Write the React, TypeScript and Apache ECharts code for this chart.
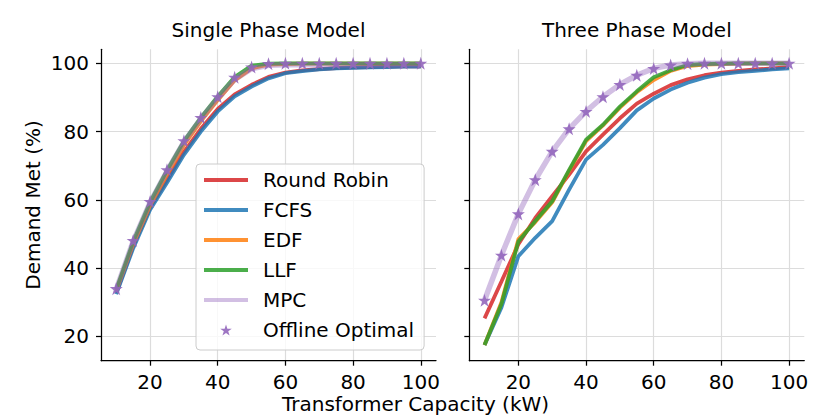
import React, { useEffect, useRef } from "react";
import * as echarts from "echarts";

const capacities = [10, 15, 20, 25, 30, 35, 40, 45, 50, 55, 60, 65, 70, 75, 80, 85, 90, 95, 100];
const seriesNames = ["Round Robin", "FCFS", "EDF", "LLF", "MPC", "Offline Optimal"];
const panelTitles = ["Single Phase Model", "Three Phase Model"];
const tickValuesX = [20, 40, 60, 80, 100];
const tickValuesY = [20, 40, 60, 80, 100];

// Single phase
const singleRR = [32.8, 46.5, 57.8, 65.8, 74.0, 80.8, 86.6, 90.9, 93.7, 96.0, 97.3, 97.9, 98.3, 98.6, 98.8, 98.9, 99.0, 99.1, 99.1];
const singleFCFS = [32.4, 45.8, 57.1, 65.0, 73.2, 80.0, 85.9, 90.3, 93.2, 95.6, 97.1, 97.7, 98.2, 98.5, 98.7, 98.8, 98.9, 99.0, 99.0];
const singleEDF = [33.5, 47.0, 58.3, 67.5, 76.0, 83.0, 89.2, 95.0, 98.5, 99.6, 99.8, 99.9, 99.9, 99.9, 99.9, 99.9, 99.9, 99.9, 99.9];
const singleLLF = [33.8, 47.8, 59.3, 68.6, 77.2, 84.1, 90.3, 96.0, 99.3, 99.9, 100, 100, 100, 100, 100, 100, 100, 100, 100];
const singleMPC = [33.8, 47.8, 59.2, 68.4, 76.9, 83.7, 89.8, 95.3, 98.4, 99.4, 99.6, 99.6, 99.6, 99.6, 99.6, 99.6, 99.6, 99.6, 99.6];
const singleOPT = [34.0, 48.1, 59.5, 68.8, 77.3, 84.1, 90.2, 95.9, 98.9, 99.9, 100, 100, 100, 100, 100, 100, 100, 100, 100];

// Three phase
const threeRR = [25.3, 36.1, 47.0, 54.7, 61.1, 67.4, 74.2, 79.1, 83.9, 88.2, 91.1, 93.6, 95.3, 96.5, 97.3, 97.8, 98.2, 98.5, 98.9];
const threeFCFS = [17.5, 28.5, 43.5, 48.9, 53.8, 63.0, 71.8, 76.1, 81.0, 86.2, 89.7, 92.3, 94.3, 95.8, 96.8, 97.4, 97.8, 98.2, 98.5];
const threeEDF = [17.5, 30.0, 48.5, 53.5, 59.3, 68.5, 77.2, 81.8, 87.0, 91.5, 95.1, 97.8, 99.2, 99.6, 99.8, 99.9, 100, 100, 100];
const threeLLF = [17.5, 29.5, 47.8, 53.8, 59.6, 68.8, 77.6, 82.0, 87.3, 91.8, 95.9, 98.0, 99.5, 99.8, 99.9, 100, 100, 100, 100];
const threeMPC = [30.6, 43.8, 55.9, 65.9, 74.2, 80.8, 85.9, 90.2, 93.8, 96.5, 98.5, 99.5, 99.9, 100, 100, 100, 100, 100, 100];
const threeOPT = [30.6, 43.8, 55.9, 65.9, 74.2, 80.8, 85.9, 90.2, 93.8, 96.5, 98.5, 99.5, 99.9, 100, 100, 100, 100, 100, 100];

const panels = [
  [singleRR, singleFCFS, singleEDF, singleLLF, singleMPC, singleOPT],
  [threeRR, threeFCFS, threeEDF, threeLLF, threeMPC, threeOPT],
];

const colors = ["#d62728", "#1f77b4", "#ff7f0e", "#2ca02c", "#9467bd", "#9467bd"];

const STAR =
  "path://M50,0 L61.2,34.5 L97.6,34.5 L68.2,55.9 L79.4,90.5 L50,69.1 L20.6,90.5 L31.8,55.9 L2.4,34.5 L38.8,34.5 Z";

const FONT = "DejaVu Sans";

export default function App() {
  const ref = useRef<HTMLDivElement>(null);

  useEffect(() => {
    if (!ref.current) return;
    const chart = echarts.init(ref.current, undefined, { renderer: "svg" });

    const gridW = 335;
    const gridH = 311.4;
    const gridLefts = [101, 469.3];
    const gridTop = 49.3;

    const series: any[] = [];
    panels.forEach((panel, pi) => {
      panel.forEach((vals, si) => {
        const data = capacities.map((c, i) => [c, vals[i]]);
        const name = seriesNames[si];
        if (si === 5) {
          series.push({
            name,
            type: "scatter",
            xAxisIndex: pi,
            yAxisIndex: pi,
            data,
            symbol: STAR,
            symbolSize: 13,
            itemStyle: { color: colors[si], opacity: 0.9 },
            z: 10,
          });
        } else {
          const isMPC = si === 4;
          series.push({
            name,
            type: "line",
            xAxisIndex: pi,
            yAxisIndex: pi,
            data,
            showSymbol: false,
            symbol: "none",
            lineStyle: {
              color: colors[si],
              width: isMPC ? 5.5 : 3.8,
              opacity: isMPC ? 0.42 : 0.85,
            },
            itemStyle: { color: colors[si] },
            z: 2 + si,
          });
        }
      });
    });

    const axisCommonX = (gi: number) => ({
      type: "value",
      gridIndex: gi,
      min: 5.5,
      max: 104.5,
      axisLine: { show: true, lineStyle: { color: "#000", width: 1.25 } },
      axisTick: {
        show: true,
        customValues: tickValuesX,
        length: 5,
        lineStyle: { color: "#000", width: 1.25 },
      },
      axisLabel: {
        customValues: tickValuesX,
        color: "#000",
        fontSize: 20,
        fontFamily: FONT,
        margin: 11,
      },
      splitLine: { show: true, lineStyle: { color: "#dcdcdc", width: 1.2 } },
    });

    const axisCommonY = (gi: number) => ({
      type: "value",
      gridIndex: gi,
      min: 12.9,
      max: 104.1,
      axisLine: { show: true, lineStyle: { color: "#000", width: 1.25 } },
      axisTick: {
        show: true,
        customValues: tickValuesY,
        length: 5,
        lineStyle: { color: "#000", width: 1.25 },
      },
      axisLabel: {
        show: gi === 0,
        customValues: tickValuesY,
        color: "#000",
        fontSize: 20,
        fontFamily: FONT,
        margin: 12,
      },
      splitLine: { show: true, lineStyle: { color: "#dcdcdc", width: 1.2 } },
      ...(gi === 0
        ? {
            name: "Demand Met (%)",
            nameLocation: "middle",
            nameGap: 58,
            nameTextStyle: { color: "#000", fontSize: 20, fontFamily: FONT },
          }
        : {}),
    });

    const legendData = seriesNames.map((n, i) =>
      i < 5 ? { name: n, itemStyle: { opacity: 0 } } : { name: n }
    );

    chart.setOption({
      animation: false,
      backgroundColor: "#fff",
      textStyle: { fontFamily: FONT },
      title: panelTitles.map((t, i) => ({
        text: t,
        left: gridLefts[i] + gridW / 2,
        top: 19.5,
        padding: 0,
        textAlign: "center",
        textStyle: { color: "#000", fontSize: 20, fontWeight: "normal", fontFamily: FONT },
      })),
      grid: gridLefts.map((l) => ({ left: l, top: gridTop, width: gridW, height: gridH })),
      xAxis: [axisCommonX(0), axisCommonX(1)],
      yAxis: [axisCommonY(0), axisCommonY(1)],
      legend: {
        data: legendData,
        orient: "vertical",
        left: 196,
        top: 164,
        padding: [6, 10, 10, 6],
        itemWidth: 44,
        itemHeight: 11,
        itemGap: 10,
        backgroundColor: "rgba(255,255,255,0.8)",
        borderColor: "#cccccc",
        borderWidth: 1,
        borderRadius: 4,
        lineStyle: { width: 4 },
        textStyle: {
          color: "#000",
          fontSize: 20,
          fontFamily: FONT,
          lineHeight: 20,
          padding: [0, 0, 0, 10],
        },
        z: 20,
      },
      graphic: [
        {
          type: "text",
          x: 415.5,
          y: 404,
          style: {
            text: "Transformer Capacity (kW)",
            fill: "#000",
            fontSize: 20,
            fontFamily: FONT,
            textAlign: "center",
            textVerticalAlign: "middle",
          },
        },
      ],
      series,
    });

    return () => chart.dispose();
  }, []);

  return (
    <div
      ref={ref}
      style={{ position: "fixed", left: 0, top: 0, width: 831, height: 416 }}
    />
  );
}
